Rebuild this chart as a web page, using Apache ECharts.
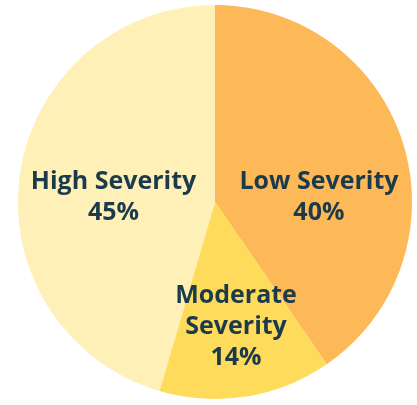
<!DOCTYPE html>
<html><head><meta charset="utf-8">
<script src="https://cdn.jsdelivr.net/npm/echarts@6/dist/echarts.min.js"></script>
<style>html,body{margin:0;padding:0;background:#fff}#c{width:417px;height:405px}</style>
</head><body><div id="c"></div>
<script>
const categories = ['Low Severity', 'Moderate Severity', 'High Severity'];
const labelTexts = ['Low Severity\n40%', 'Moderate\nSeverity\n14%', 'High Severity\n45%'];
const values = [40, 14, 45];
const colors = ['#FDB958', '#FFDB5C', '#FEF0B7'];
const labelOffsets = [[7, 26], [5, 25], [-1, 10]];

const chart = echarts.init(document.getElementById('c'));
chart.setOption({
  animation: false,
  series: [{
    type: 'pie',
    center: [215, 202],
    radius: [0, 197],
    startAngle: 90,
    clockwise: true,
    silent: true,
    label: {
      position: 'inner',
      color: '#1B3A4B',
      fontFamily: 'Open Sans',
      fontWeight: 'bold',
      fontSize: 25,
      lineHeight: 31,
      formatter: p => labelTexts[p.dataIndex]
    },
    labelLine: { show: false },
    itemStyle: { borderWidth: 0 },
    data: categories.map((n, i) => ({
      name: n, value: values[i],
      itemStyle: { color: colors[i] },
      label: { offset: labelOffsets[i] }
    }))
  }]
});
</script></body></html>
